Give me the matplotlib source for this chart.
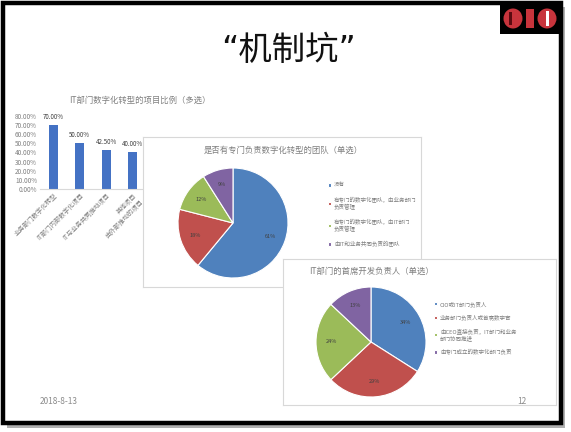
import matplotlib
matplotlib.use('Agg')
import matplotlib.pyplot as plt
from matplotlib.patches import Rectangle, Ellipse
import numpy as np

plt.rcParams['font.family'] = ['Noto Sans CJK SC', 'DejaVu Sans']

W, H = 571, 432

# ---------------- data ----------------
slide_title = "“机制坑”"
date_text = "2018-8-13"
page_text = "12"

bar_title = "IT部门数字化转型的项目比例（多选）"
bar_categories = ["业务部门数字化转型", "IT部门内部数字化项目", "IT与业务共同推动项目", "其他项目\n由外部推动的项目"]
bar_values = [0.70, 0.50, 0.425, 0.40]
bar_value_labels = ["70.00%", "50.00%", "42.50%", "40.00%"]
bar_yticks = [0.0, 0.1, 0.2, 0.3, 0.4, 0.5, 0.6, 0.7, 0.8]

pie1_title = "是否有专门负责数字化转型的团队（单选）"
pie1_labels = ["没有", "有专门的数字化团队，由业务部门\n负责管理", "有专门的数字化团队，由IT部门\n负责管理", "由IT和业务共同负责的团队"]
pie1_values = [61, 18, 12, 9]

pie2_title = "IT部门的首席开发负责人（单选）"
pie2_labels = ["CIO或IT部门负责人", "业务部门负责人或首席数字官", "由CEO直接负责，IT部门和业务\n部门协同推进", "由专门成立的数字化部门负责"]
pie2_values = [34, 29, 24, 13]

colors = ['#4F81BD', '#C0504D', '#9BBB59', '#8064A2']
text_gray = '#7f7f7f'

fig = plt.figure(figsize=(W / 100, H / 100), dpi=100)
fig.patch.set_facecolor('white')


def fx(x):
    return x / W


def fy(y):
    return 1 - y / H


def ax_px(x0, y0, x1, y1):
    return fig.add_axes([fx(x0), fy(y1), (x1 - x0) / W, (y1 - y0) / H])


# ---------------- background / frame ----------------
bg = ax_px(0, 0, W, H)
bg.set_xlim(0, W)
bg.set_ylim(H, 0)
bg.axis('off')
bg.add_patch(Rectangle((7, 7), 558, 421, facecolor='#b0b0b0', edgecolor='none'))
bg.add_patch(Rectangle((3, 3), 558, 420, facecolor='white', edgecolor='black', linewidth=3.2))
# logo
bg.add_patch(Rectangle((500, 4), 60, 30, facecolor='black', edgecolor='none'))
bg.add_patch(Ellipse((513, 18.5), 19, 20, facecolor='#c8343c', edgecolor='none'))
bg.add_patch(Rectangle((509, 12), 3, 13, facecolor='#5a0a10', edgecolor='none'))
bg.add_patch(Rectangle((526, 9), 8, 19, facecolor='#c8343c', edgecolor='none'))
bg.add_patch(Ellipse((547, 18.5), 19, 20, facecolor='#c8343c', edgecolor='none'))
bg.add_patch(Rectangle((546, 11), 2.5, 15, facecolor='white', edgecolor='none'))
bg.text(289, 50, slide_title, fontsize=24, ha='center', va='center',
        family=['DejaVu Sans', 'Noto Sans CJK SC'], color='#111111')
bg.text(40, 401, date_text, fontsize=6, ha='left', va='center', color='#8c8c8c')

# ---------------- bar chart ----------------
axb = ax_px(40, 115.7, 146, 189)
x = np.arange(len(bar_values))
bars = axb.bar(x, bar_values, width=0.34, color='#4472C4')
axb.set_xlim(-0.5, len(bar_values) - 0.5)
axb.set_ylim(0, 0.8)
axb.set_yticks(bar_yticks)
axb.set_yticklabels([f"{v * 100:.2f}%" for v in bar_yticks], fontsize=4.6, color=text_gray)
axb.set_xticks(x)
axb.set_xticklabels(bar_categories, rotation=45, ha='right', rotation_mode='anchor',
                    fontsize=4.6, color=text_gray)
axb.tick_params(length=0, pad=2)
for s in ['top', 'right', 'left']:
    axb.spines[s].set_visible(False)
axb.spines['bottom'].set_color('#d9d9d9')
axb.set_facecolor('none')
for b, lab in zip(bars, bar_value_labels):
    axb.annotate(lab, (b.get_x() + b.get_width() / 2, b.get_height()), xytext=(0, 3),
                 textcoords='offset points', ha='center', va='bottom', fontsize=4.5, color='#404040')
axb.text(fx(140), fy(100), bar_title, transform=fig.transFigure, fontsize=6,
         ha='center', va='center', color=text_gray)


def panel(x0, y0, x1, y1):
    ap = ax_px(x0, y0, x1, y1)
    ap.set_xticks([])
    ap.set_yticks([])
    ap.set_facecolor('white')
    for s in ap.spines.values():
        s.set_color('#d8d8d8')
        s.set_linewidth(0.8)
    return ap


def draw_pie(cx, cy, r, values, labels, title, tx, ty, lx, ly, lspacing):
    ap = ax_px(cx - r, cy - r, cx + r, cy + r)
    wedges, _, autotexts = ap.pie(values, colors=colors, startangle=90, counterclock=False,
                                  autopct='%1.0f%%', pctdistance=0.72,
                                  wedgeprops=dict(edgecolor='white', linewidth=0.8),
                                  textprops=dict(fontsize=4, color='#404040'))
    ap.set_xlim(-1, 1)
    ap.set_ylim(-1, 1)
    ap.set_aspect('equal')
    ap.text(fx(tx), fy(ty), title, transform=fig.transFigure, fontsize=6,
            ha='center', va='center', color=text_gray)
    ap.legend(wedges, labels, loc='upper left', bbox_to_anchor=(fx(lx), fy(ly)),
              bbox_transform=fig.transFigure, frameon=False, fontsize=4,
              labelcolor=text_gray, handlelength=0.6, handleheight=0.6,
              handletextpad=0.5, labelspacing=lspacing, borderpad=0)
    return ap


# ---------------- pie 1 ----------------
panel(143, 137, 421, 287)
draw_pie(233, 223, 55, pie1_values, pie1_labels, pie1_title, 283, 150, 325, 180, 1.6)

# ---------------- pie 2 ----------------
panel(283, 259, 556, 405)
draw_pie(371, 342, 55, pie2_values, pie2_labels, pie2_title, 372, 271, 431, 298, 1.4)

# page number on top of everything
fig.text(fx(526), fy(401), page_text, fontsize=6, ha='right', va='center', color='#8c8c8c')

fig.savefig('out.png', dpi=100)
